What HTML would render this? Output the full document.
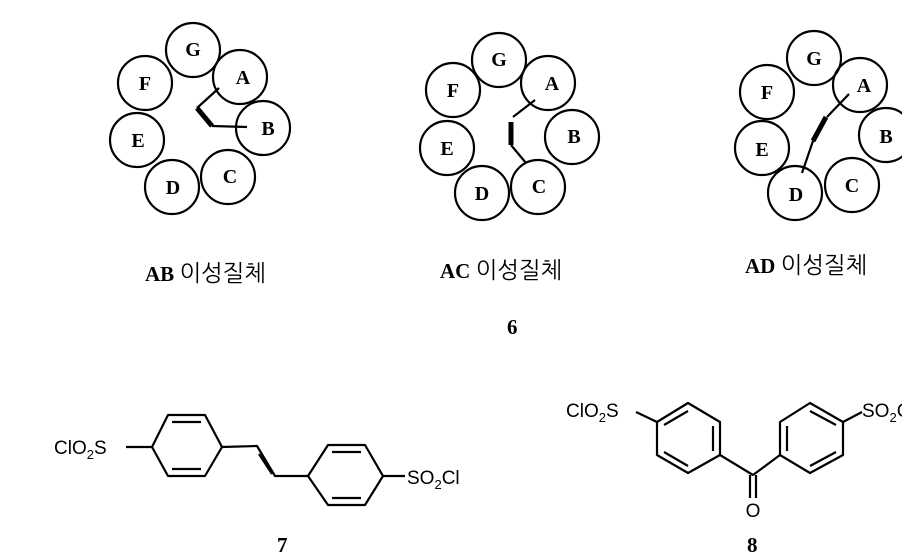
<!DOCTYPE html>
<html><head><meta charset="utf-8"><style>
body{margin:0;background:#fff}
svg{display:block}
.c{fill:none;stroke:#000;stroke-width:2.2}
.l{font-family:"Liberation Serif",serif;font-weight:bold;font-size:20px;text-anchor:middle;dominant-baseline:central}
.b{stroke:#000;stroke-width:2.2;fill:none;stroke-linejoin:round}
.k{font-family:"Liberation Serif","NanumGothic",sans-serif;font-size:21px;font-weight:bold}
.s{font-family:"Liberation Sans",sans-serif;font-size:19px}
.h{font-weight:normal;font-family:"NanumGothic",sans-serif;font-size:23px}
</style></head><body>
<svg width="902" height="552" viewBox="0 0 902 552">
<g>
<circle class="c" cx="193" cy="50" r="27"/><text class="l" x="193" y="50">G</text>
<circle class="c" cx="240" cy="77" r="27"/><text class="l" x="243" y="78">A</text>
<circle class="c" cx="263" cy="128" r="27"/><text class="l" x="268" y="129">B</text>
<circle class="c" cx="228" cy="177" r="27"/><text class="l" x="230" y="177">C</text>
<circle class="c" cx="172" cy="187" r="27"/><text class="l" x="173" y="188">D</text>
<circle class="c" cx="137" cy="140" r="27"/><text class="l" x="138" y="141">E</text>
<circle class="c" cx="145" cy="83" r="27"/><text class="l" x="145" y="84">F</text>
<polyline class="b" points="219,88 197,108"/>
<line x1="197" y1="108" x2="212" y2="126" stroke="#000" stroke-width="5"/>
<polyline class="b" points="212,126 247,127"/>
</g>
<g>
<circle class="c" cx="499" cy="60" r="27"/><text class="l" x="499" y="60">G</text>
<circle class="c" cx="548" cy="83" r="27"/><text class="l" x="552" y="84">A</text>
<circle class="c" cx="572" cy="137" r="27"/><text class="l" x="574" y="137">B</text>
<circle class="c" cx="538" cy="187" r="27"/><text class="l" x="539" y="187">C</text>
<circle class="c" cx="482" cy="193" r="27"/><text class="l" x="482" y="194">D</text>
<circle class="c" cx="447" cy="148" r="27"/><text class="l" x="447" y="149">E</text>
<circle class="c" cx="453" cy="90" r="27"/><text class="l" x="453" y="91">F</text>
<polyline class="b" points="535,100 513,117"/>
<line x1="511" y1="122" x2="511" y2="145" stroke="#000" stroke-width="5"/>
<polyline class="b" points="511,145 526,163"/>
</g>
<g>
<circle class="c" cx="814" cy="58" r="27"/><text class="l" x="814" y="59">G</text>
<circle class="c" cx="860" cy="85" r="27"/><text class="l" x="864" y="86">A</text>
<circle class="c" cx="886" cy="135" r="27"/><text class="l" x="886" y="137">B</text>
<circle class="c" cx="852" cy="185" r="27"/><text class="l" x="852" y="186">C</text>
<circle class="c" cx="795" cy="193" r="27"/><text class="l" x="796" y="195">D</text>
<circle class="c" cx="762" cy="148" r="27"/><text class="l" x="762" y="150">E</text>
<circle class="c" cx="767" cy="92" r="27"/><text class="l" x="767" y="93">F</text>
<polyline class="b" points="849,94 827,117"/>
<line x1="826" y1="117" x2="813" y2="141" stroke="#000" stroke-width="5"/>
<polyline class="b" points="813,141 802,173"/>
</g>
<text class="k" x="145" y="281">AB <tspan class="h">이성질체</tspan></text>
<text class="k" x="440" y="278">AC <tspan class="h">이성질체</tspan></text>
<text class="k" x="745" y="273">AD <tspan class="h">이성질체</tspan></text>
<text class="k" x="507" y="334">6</text>
<text class="s" x="54" y="454">ClO<tspan font-size="13" dy="5">2</tspan><tspan dy="-5">S</tspan></text>
<line class="b" x1="126" y1="447" x2="152" y2="447"/>
<polygon class="b" points="152,447 168,415 205,415 222,447 205,476 168,476"/>
<line class="b" x1="172" y1="422" x2="201" y2="422"/>
<line class="b" x1="172" y1="469" x2="201" y2="469"/>
<polyline class="b" points="222,447 257,446 275,476 308,476"/>
<line class="b" x1="259" y1="454" x2="272" y2="474"/>
<polygon class="b" points="308,476 328,445 365,445 383,476 365,505 328,505"/>
<line class="b" x1="332" y1="452" x2="361" y2="452"/>
<line class="b" x1="332" y1="498" x2="361" y2="498"/>
<line class="b" x1="383" y1="476" x2="405" y2="476"/>
<text class="s" x="407" y="484">SO<tspan font-size="13" dy="5">2</tspan><tspan dy="-5">Cl</tspan></text>
<text class="k" x="277" y="552">7</text>
<text class="s" x="566" y="417">ClO<tspan font-size="13" dy="5">2</tspan><tspan dy="-5">S</tspan></text>
<line class="b" x1="636" y1="412" x2="657" y2="422"/>
<polygon class="b" points="688,403 720,422 720,455 688,473 657,455 657,422"/>
<line class="b" x1="713" y1="426" x2="713" y2="451"/>
<line class="b" x1="664" y1="452" x2="688" y2="466"/>
<line class="b" x1="664" y1="425" x2="688" y2="411"/>
<polyline class="b" points="720,455 753,475 780,455"/>
<line class="b" x1="750" y1="475" x2="750" y2="498"/>
<line class="b" x1="756" y1="475" x2="756" y2="498"/>
<text class="s" x="753" y="517" text-anchor="middle">O</text>
<polygon class="b" points="810,403 843,422 843,455 810,473 780,455 780,422"/>
<line class="b" x1="787" y1="426" x2="787" y2="451"/>
<line class="b" x1="810" y1="411" x2="836" y2="425"/>
<line class="b" x1="810" y1="466" x2="836" y2="452"/>
<line class="b" x1="843" y1="422" x2="862" y2="412"/>
<text class="s" x="862" y="417">SO<tspan font-size="13" dy="5">2</tspan><tspan dy="-5">Cl</tspan></text>
<text class="k" x="747" y="552">8</text>
</svg>
</body></html>
